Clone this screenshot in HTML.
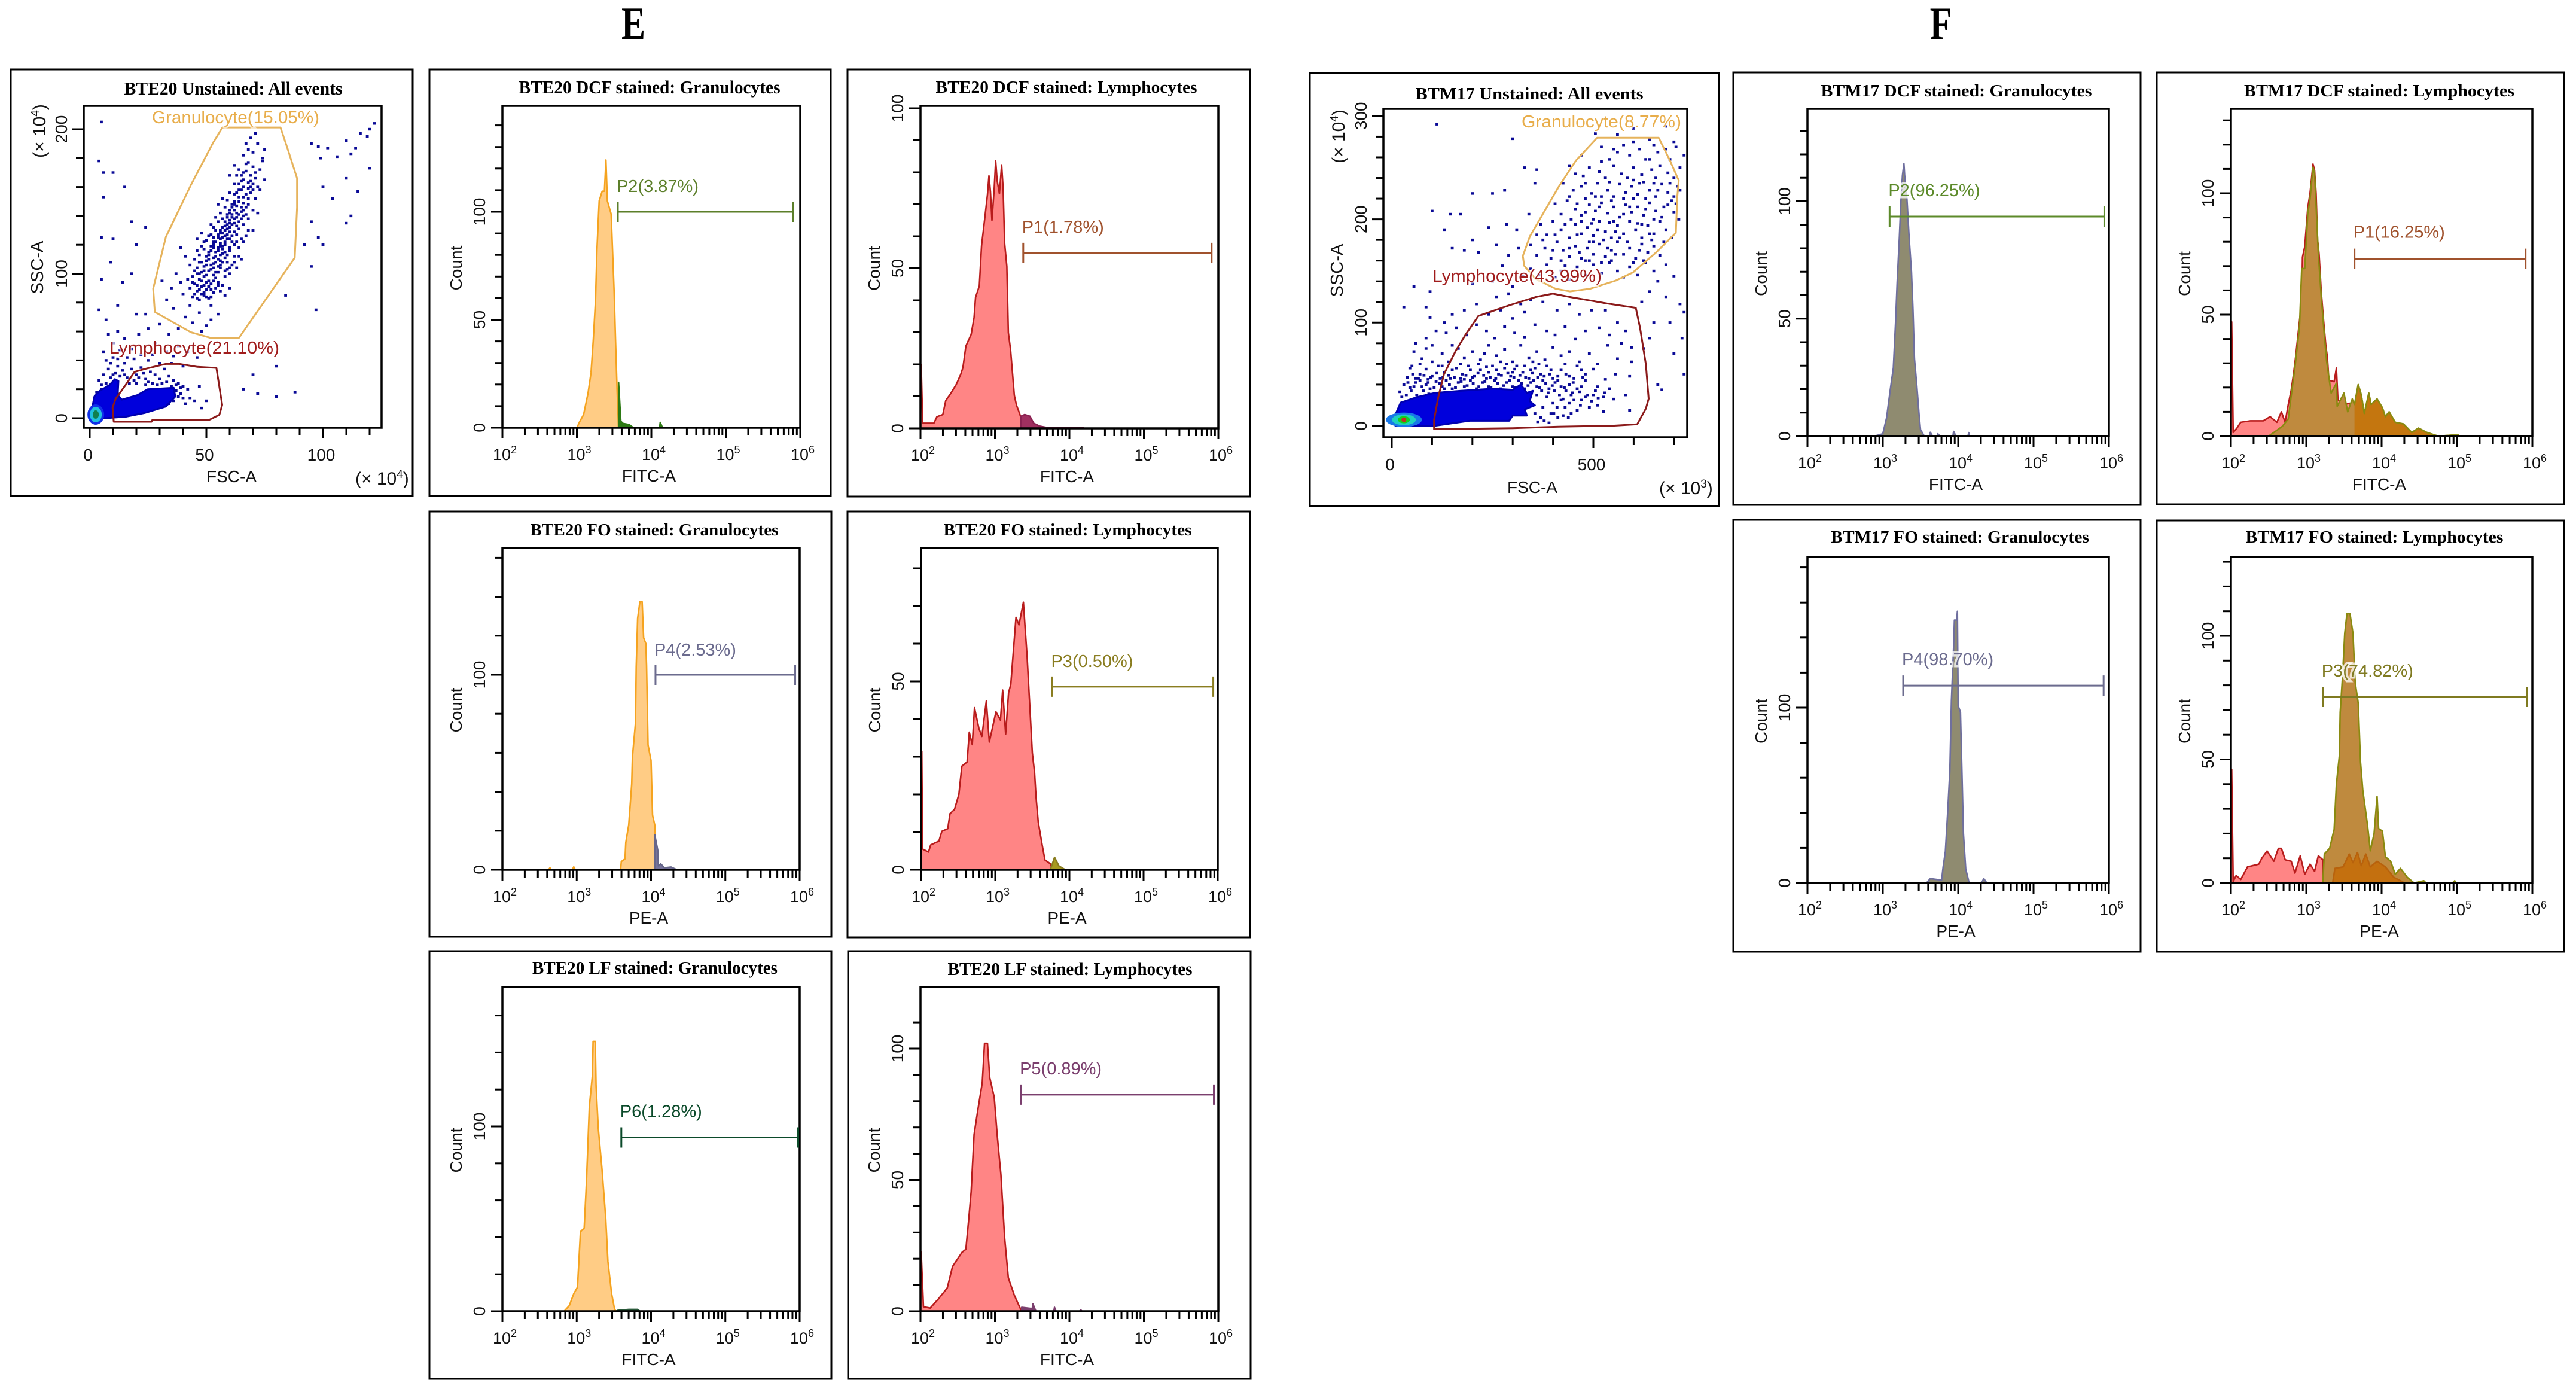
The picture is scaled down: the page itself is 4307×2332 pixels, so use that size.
<!DOCTYPE html>
<html lang="en">
<head>
<meta charset="utf-8">
<title>Flow cytometry panels E and F</title>
<style>
html,body{margin:0;padding:0;background:#fff;}
svg{display:block;}
text{font-family:"Liberation Sans",sans-serif;}
.serif{font-family:"Liberation Serif",serif;font-weight:bold;}
</style>
</head>
<body>
<svg id="figure" xmlns="http://www.w3.org/2000/svg" width="4307" height="2332" viewBox="0 0 4307 2332">
<rect width="4307" height="2332" fill="#fff"/>
<text class="serif" font-size="77" text-anchor="middle" transform="translate(1059,65) scale(.78,1)">E</text>
<text class="serif" font-size="77" text-anchor="middle" transform="translate(3245,65) scale(.78,1)">F</text>
</svg>
<script>
/* ---------- histogram values: log10 fluorescence and event count ---------- */
const eDcfGranLog=[3.00,3.04,3.09,3.15,3.19,3.22,3.25,3.27,3.30,3.34,3.37,3.39,3.41,3.46,3.48,3.50,3.52,3.54,3.56];
const eDcfGranCount=[0,3,6,16,25.5,40.5,58.5,82.5,105,109.5,109.5,124,105,99,81,63,40,18,0];
const eDcfGranGateLog=[3.56,3.56,3.57,3.59,3.62,3.70,3.76,4.11,4.12,4.15];
const eDcfGranGateCount=[0,21,15,3,2,1.5,0,0,2.5,0];

const eDcfLymLog=[2.00,2.01,2.03,2.18,2.22,2.30,2.34,2.41,2.48,2.54,2.57,2.61,2.68,2.72,2.74,2.79,2.82,2.86,2.90,2.92,2.94,2.96,2.99,3.01,3.03,3.06,3.09,3.11,3.13,3.16,3.18,3.21,3.26,3.29,3.33,3.36,3.40];
const eDcfLymCount=[0,19.9,1.6,1.6,3.6,4.3,8.7,11,13.7,16.8,19,25.7,29.3,34.6,40.9,44.5,57,65,73,78.9,73.9,65,74.9,83.6,77.4,73.3,82.3,74.9,57.8,50.6,29.9,24.6,10.3,7.2,4.7,2.5,0];
const eDcfLymGateLog=[3.35,3.35,3.40,3.47,3.52,3.60,3.69,4.19,4.19];
const eDcfLymGateCount=[0,3.8,4.3,3.8,1.6,0.7,0.3,0.3,0];

const eFoGranLog=[2.62,2.64,2.66,2.94,2.96,2.98,3.59,3.60,3.65,3.66,3.70,3.74,3.75,3.79,3.80,3.82,3.85,3.88,3.90,3.93,3.94,3.96,4.00,4.02,4.05,4.06];
const eFoGranCount=[0,1,0,0,1.5,0,0,4.2,5.6,14,23,44,58,75,104,129,137.5,137.5,119,116,105,64,56,28,23,0];
const eFoGranGateLog=[4.05,4.05,4.09,4.10,4.13,4.18,4.27,4.35];
const eFoGranGateCount=[0,18,10,2,3,1,1.4,0];

const eFoLymLog=[2.00,2.01,2.02,2.10,2.13,2.24,2.28,2.36,2.39,2.45,2.51,2.55,2.62,2.65,2.69,2.72,2.78,2.82,2.88,2.92,3.01,3.07,3.10,3.14,3.18,3.21,3.28,3.32,3.38,3.40,3.43,3.45,3.50,3.53,3.55,3.58,3.63,3.67,3.75,3.76];
const eFoLymCount=[0,31.4,5.5,4.7,6.6,7.6,10.2,10.9,14.9,16,20,27.5,28.6,36.5,33.2,43,37.5,35.4,44.8,33.9,41.9,39.7,47.7,36,47,49.2,67,65,71,65,56.5,49.2,31,25.9,19.3,12.7,6.9,2.6,1.5,0];
const eFoLymGateLog=[3.74,3.76,3.80,3.86,3.92,3.95];
const eFoLymGateCount=[0,1,3.3,1,0.3,0];

const eLfGranLog=[2.83,2.90,2.96,3.01,3.05,3.10,3.13,3.17,3.21,3.22,3.25,3.26,3.29,3.34,3.39,3.42,3.47,3.51,3.53];
const eLfGranCount=[0,3,9.5,13,43,45,69,111,127,146,146,122,99,77,50.6,27,9.5,1,0];
const eLfGranGateLog=[3.53,3.55,3.70,3.82,3.85];
const eLfGranGateCount=[0,0.5,1,1,0];

const eLfLymLog=[2.00,2.01,2.04,2.13,2.25,2.36,2.43,2.50,2.56,2.61,2.65,2.68,2.72,2.77,2.83,2.86,2.90,2.93,2.99,3.03,3.08,3.13,3.18,3.26,3.33,3.36];
const eLfLymCount=[0,22.5,1.7,1.2,5,8.9,17,20,22.5,23.6,35.6,45.5,67.3,76.6,87,102,102,89,81.5,67.3,52,28,12.7,6.1,1.7,0];
const eLfLymGateLog=[3.36,3.36,3.50,3.51,3.55,3.79,3.80,3.82,4.14,4.15,4.17];
const eLfLymGateCount=[0,1.5,1,2.8,0,0,1.5,0,0,0.6,0];

const fDcfGranLog=[2.89,3.00,3.05,3.10,3.14,3.17,3.19,3.22,3.24,3.26,3.28,3.29,3.32,3.35,3.38,3.40,3.42,3.45,3.48,3.50,3.55,3.62,3.63,3.66,3.72,3.73,3.76,3.93,3.94,3.97,4.13,4.14,4.15];
const fDcfGranCount=[0,1,7.8,20,29,49,65,85,100,111,116,111,101,84,70,54,33,22,9.6,2.8,0,0,1.6,0,0,1,0,0,2,0,0,1.5,0];

const fDcfLymLog=[2.00,2.01,2.03,2.08,2.13,2.26,2.43,2.52,2.61,2.67,2.72,2.76,2.80,2.83,2.86,2.91,2.94,2.95,2.98,3.02,3.05,3.09,3.11,3.13,3.15,3.17,3.20,3.23,3.26,3.28,3.30,3.37,3.40,3.42,3.50,3.57,3.64,3.64];
const fDcfLymCount=[0,47,1.5,3.3,5.7,6.3,6.3,8,5.7,10,5.7,12.9,18.9,25.4,33,47.5,54.7,73.7,78,94,100,112,109.5,100,81,75,59,47.5,37,32.6,23,22.4,28,15,13,13.5,13.5,0];
const fDcfOliveLog=[2.50,2.57,2.68,2.76,2.81,2.85,2.91,2.94,2.98,3.02,3.05,3.09,3.11,3.13,3.16,3.20,3.24,3.27,3.33,3.40,3.41,3.50,3.55,3.61,3.64,3.69,3.73,3.77,3.83,3.86,3.94,4.01,4.05,4.10,4.18,4.29,4.40,4.49,4.60,4.75,4.93,5.02,5.03];
const fDcfOliveCount=[0,1.5,4,7,19,28.4,45,69,69,91.6,97.6,110.7,108,95,75,57,41.5,31,17.7,21.8,12.3,17.7,10,15.3,13,21.2,17,9.3,17.7,13,15.3,11.7,8,10,5.7,5,1.5,3.3,1.5,0,0.4,0.4,0];

const fFoGranLog=[3.58,3.63,3.78,3.80,3.83,3.86,3.89,3.91,3.94,3.95,3.98,3.99,4.00,4.03,4.05,4.07,4.10,4.14,4.16,4.31,4.34,4.38];
const fFoGranCount=[0,2.5,1.6,9,18,40,64,104,135,150,150,155,101,97.5,63,28,8,1,0,0,2.5,0];

const fFoLymLog=[2.00,2.01,2.03,2.07,2.13,2.22,2.37,2.41,2.48,2.57,2.63,2.67,2.72,2.80,2.85,2.92,2.98,3.05,3.11,3.16,3.22,3.22];
const fFoLymCount=[0,46,0.6,3,1.4,6.5,7.6,10,12.9,8.8,14,14,9.4,8.8,4,11,3.5,7.6,4.7,11,9.4,0];
const fFoOliveLog=[3.22,3.24,3.31,3.37,3.40,3.44,3.45,3.48,3.51,3.54,3.58,3.62,3.65,3.69,3.72,3.75,3.81,3.85,3.90,3.94,3.96,4.01,4.05,4.12,4.18,4.25,4.34,4.43,4.56,4.59,4.94,4.97,4.99];
const fFoOliveCount=[0,11.7,14,21.7,40,51.6,69,83,101,109,109,101,81,72.8,49,37.6,24,13,20,35,22,21,10.6,8.8,3.5,5.9,2.3,0,0.9,0,0,0.9,0];
const fFoGatedLog=[3.35,3.38,3.49,3.57,3.62,3.68,3.73,3.79,3.85,3.94,4.05,4.16,4.27,4.30];
const fFoGatedCount=[0,5.9,6.5,11.7,8.2,12.3,7,11.7,6.5,8.8,6.5,2.3,0.6,0];

/* ---------- scatter values: events as [FSC, SSC] in axis units ---------- */
const eEvents=[[38,62],[41,70],[44,66],[47,73],[50,64],[52,78],[36,76],[33,82],[43,78],[55,72],[48,60],[46,83],[40,86],[35,90],[31,95],[52,68],
[44,84],[46,88],[47,82],[48,91],[49,85],[50,89],[51,83],[52,93],[53,87],[54,90],[45,93],[47,96],[49,98],[51,95],[53,99],[55,94],[56,88],[43,90],[42,96],[46,100],[48,86],[50,94],[52,84],[54,97],[57,92],[58,85],[44,98],[39,94],[37,100],[60,90],
[46,104],[48,108],[49,102],[50,106],[51,110],[52,103],[53,107],[54,112],[55,105],[56,109],[57,114],[58,102],[59,108],[60,116],[47,113],[49,117],[51,115],[53,118],[55,116],[56,104],[58,111],[61,106],[62,112],[50,112],[52,119],[54,101],[57,119],[45,110],[43,106],[64,118],[65,110],[48,119],[59,103],[60,100],[41,112],[39,118],[63,104],
[50,123],[52,127],[53,122],[54,130],[55,125],[56,121],[57,128],[58,133],[59,124],[60,129],[61,122],[62,135],[63,127],[64,131],[55,136],[57,138],[59,134],[61,139],[65,124],[66,134],[52,134],[48,128],[67,126],[68,138],[54,139],[60,137],[63,122],[56,130],[58,126],[46,124],[70,130],
[56,142],[58,146],[59,151],[60,144],[61,148],[62,155],[63,142],[64,150],[65,146],[66,153],[67,141],[68,148],[69,156],[70,144],[60,156],[62,148],[64,158],[66,144],[71,152],[57,152],[55,148],[72,142],[73,158],[59,141],
[62,162],[63,168],[64,172],[65,164],[66,170],[67,176],[68,163],[69,168],[70,174],[71,166],[72,160],[73,172],[74,178],[66,160],[68,177],[70,162],[75,165],[62,175],[60,168],
[66,182],[68,186],[70,184],[72,190],[74,180],[69,194],[67,190],[75,186],[71,197],
[5,205],[4,178],[6,170],[10,170],[15,160],[6,153],[18,136],[5,125],[24,132],[10,124],[20,120],[18,100],[9,108],[5,96],[14,94],[4,75],[7,68],[12,78],[20,72],[24,72],[95,190],[98,188],[102,187],[99,180],[106,181],[110,192],[114,187],[119,195],[120,200],[122,204],[116,197],[112,183],[120,173],[110,166],[115,157],[100,160],[104,152],[112,140],[110,135],[95,136],[98,125],[100,120],[92,120],[95,105],[97,75],[84,85],
[8,58],[10,52],[12,60],[15,55],[18,48],[21,58],[25,62],[28,52],[30,65],[34,58],[38,50],[13,47],[6,46],[10,42],[16,42],[22,44],[27,44],[33,46],[36,43],[42,46],[46,42],[80,36],[70,30],[66,20],[72,17],[88,18],[80,15],
[4,26],[6,30],[8,34],[10,30],[12,36],[14,33],[16,28],[18,34],[20,30],[22,35],[24,27],[26,32],[28,30],[30,27],[32,34],[34,29],[36,26],[38,24],[40,22],[42,20],[39,17],[43,14],[41,10],[45,12],[37,19],[5,23],[20,24],[24,23],[47,22],[48,7],[50,12]];
const eEventsCore=[[45,86],[47,89],[49,87],[51,91],[50,84],[48,95],[46,92],[52,89],[53,95],[50,99],[48,101],[51,102],[53,104],[55,101],[49,105],[52,106],[54,108],[56,106],[50,109],[53,111],[55,110],[57,108],[51,113],[54,115],[56,113],[58,115],[52,116],[55,118],[57,117],[59,113],[53,120],[56,119],[58,120],[60,118],[54,122],[56,124],[58,122],[60,124],[62,120],[55,127],[57,125],[59,127],[61,126],[53,125],[56,128],[58,130],[60,132],[62,129],[57,132],[59,131],[61,134],[63,133],[58,136],[60,135],[62,138],[64,136],[59,139],[61,141],[63,139],[65,138],[60,142],[62,144],[64,141],[66,140],[61,146],[63,147],[65,143],[67,146],[62,150],[64,153],[66,149],[68,152],[63,156],[65,158],[67,155],[69,160],[64,162],[66,165],[68,159],[70,158],[65,168],[67,171],[69,164],[71,170],[49,92],[47,100],[45,102],[44,94],[55,92],[58,98],[60,104],[62,108],[64,112],[66,122],[68,130],[47,108],[46,116],[49,122],[51,126],[53,132],
[3,18],[5,20],[7,24],[9,28],[11,31],[13,29],[15,30],[17,24],[19,26],[21,28],[23,31],[25,25],[27,24],[29,23],[31,24],[33,25],[35,22],[37,23],[39,21],[38,15],[40,14],[36,12],[34,10],[15,38],[9,38],[19,41],[25,40],[30,38],[35,38],[40,36],[12,41],[7,40]];

const fEvents=[[505,283],[560,282],[600,288],[640,277],[680,290],[700,275],[520,270],[575,272],[615,268],[660,265],[705,270],[725,262],[470,262],[540,258],[590,262],[630,258],[690,258],[715,250],
[440,252],[490,250],[515,246],[550,252],[570,244],[600,250],[620,243],[645,248],[665,252],[685,245],[700,240],[475,242],[530,240],[585,240],[655,240],[710,232],[455,244],
[425,235],[450,228],[470,232],[495,225],[510,235],[535,228],[550,222],[565,234],[580,226],[595,232],[610,224],[625,236],[640,228],[655,222],[670,234],[685,226],[700,222],[715,228],[480,220],[520,222],[600,220],[630,220],[660,228],[440,222],
[405,215],[420,205],[435,218],[455,210],[470,204],[490,214],[505,208],[520,216],[535,206],[550,212],[565,202],[580,214],[595,207],[610,212],[625,204],[640,216],[655,208],[670,202],[685,214],[700,207],[712,200],[445,200],[480,207],[545,218],[575,205],[630,210],[695,218],
[370,195],[385,185],[400,198],[420,190],[440,182],[455,195],[470,186],[485,192],[500,184],[515,198],[530,188],[545,182],[560,194],[575,186],[590,198],[605,190],[620,182],[635,194],[650,186],[665,198],[680,190],[695,182],[495,196],[525,180],[565,182],[610,196],[640,186],[470,198],[550,198],
[345,175],[360,165],[380,172],[395,162],[410,178],[425,170],[440,164],[455,174],[470,162],[485,172],[500,166],[515,176],[530,164],[545,170],[560,178],[575,166],[590,172],[605,162],[620,176],[635,168],[650,174],[665,165],[420,160],[500,178],[545,160],[480,160],
[345,152],[365,146],[385,156],[405,144],[420,150],[440,142],[460,154],[480,146],[500,156],[520,148],[540,158],[560,150],[575,144],[590,154],[610,146],[630,158],[650,150],[680,156],[700,145],[430,155],
[112,292],[300,278],[330,250],[360,248],[280,228],[200,225],[355,235],[340,205],[100,208],[145,205],[170,205],[250,225],[240,192],[130,190],[200,180],[285,195],[310,190],[260,175],[180,170],[150,172],[215,168],[315,172],[290,165],[275,155],[325,145],[300,135],[250,140],[200,138],[55,135],[95,130],[30,115],[85,115],[715,118],[680,125],[640,130],[650,100],[690,100],[725,110],[700,70],[725,50],[660,40],[670,35],[720,85],[640,85],[625,75],[660,140],[620,120],
[260,125],[290,128],[320,118],[345,122],[375,120],[410,112],[440,118],[465,108],[495,112],[530,112],[560,100],[180,112],[210,118],[240,108],[270,112],[300,104],[330,110],[150,108],[130,100],[95,105],
[85,85],[110,92],[135,90],[160,95],[185,88],[210,98],[235,92],[255,85],[280,96],[305,90],[330,86],[355,98],[385,92],[405,88],[430,96],[455,84],[480,92],[515,95],[540,88],[570,80],[580,92],[595,76],[60,80],
[55,72],[75,65],[100,78],[125,70],[140,62],[165,75],[180,66],[200,72],[220,64],[240,78],[260,68],[280,74],[300,62],[320,78],[340,66],[360,72],[380,64],[400,76],[420,68],[440,72],[465,62],[490,70],[510,60],[535,78],[560,65],[595,62],[85,75],[150,78],[230,70],[270,62],[350,62],
[50,58],[70,50],[85,55],[100,48],[115,58],[130,52],[145,46],[160,56],[175,50],[190,58],[205,48],[220,54],[235,46],[250,58],[265,50],[280,56],[295,48],[310,58],[325,52],[340,46],[355,56],[370,50],[385,58],[400,46],[420,54],[440,48],[460,58],[480,50],[500,55],[530,45],[555,50],[590,48],[60,46],[90,45],[120,46],[180,45],[240,52],[300,52],[330,58],[365,60],
[40,42],[55,38],[70,44],[85,40],[95,36],[110,43],[125,38],[135,44],[150,36],[165,42],[180,38],[195,44],[210,36],[225,42],[240,38],[255,44],[270,36],[285,42],[300,38],[315,44],[330,36],[345,42],[360,38],[375,44],[390,36],[405,42],[420,38],[440,40],[460,36],[480,44],[510,38],[540,36],[500,30],[525,28],[550,26],[580,30],[590,15],[470,25],[445,30],[420,25],[400,22],[385,28],[375,18],[395,12],[430,18],[460,15],[490,18],[510,20],[445,12],[370,8],[355,12],[345,20],[525,14]];
const fEventsCore=[[30,40],[45,37],[60,42],[75,38],[90,42],[105,37],[118,41],[130,36],[143,40],[158,37],[172,43],[187,39],[202,41],[216,38],[231,43],[246,37],[262,41],[277,39],[292,44],[307,37],[322,41],[338,39],[352,44],[367,37],[382,41],[398,39],[412,44],[428,37],[450,42],[470,38],
[38,47],[52,50],[66,46],[80,49],[96,47],[112,51],[127,47],[141,49],[155,47],[170,46],[184,49],[200,47],[214,51],[228,49],[244,47],[258,46],[272,49],[288,51],[303,47],[318,49],[332,47],[348,51],[362,47],[378,48],[392,50],[412,48],[432,50],[452,46],[474,47],
[36,30],[48,34],[62,30],[78,34],[92,31],[360,30],[372,34],[388,32],[404,34],[416,30],[432,34],[448,32],[466,33],[486,30],[505,34],[528,32],[410,18],[425,26],[440,22],[452,25],[468,20],[480,28],[495,24],[512,27],[402,12],[412,8],[425,10],[438,8],[378,5],[390,3],[362,4],
[45,56],[70,60],[100,62],[125,58],[150,54],[170,60],[195,54],[215,60],[235,57],[260,54],[285,60],[305,55],[345,54],[395,54],[430,60],[470,54],[25,28],[20,33],
[480,235],[505,222],[540,236],[575,220],[615,235],[650,235],[690,235],[460,215],[500,200],[515,212],[540,197],[590,212],[620,195],[650,200],[675,212],[705,215],[430,195],[460,185],[490,178],[510,190],[535,172],[555,188],[585,178],[615,170],[645,180],[675,178],[405,185],[440,172],[465,168],[490,160],[520,158],[555,166],[600,158],[625,160],[400,170],[375,180],[360,185],[550,268],[600,275],[650,272],[680,268],[520,256],[560,265],[600,238],[640,258]];

/* dense event regions and gates, in axis units */
const eDenseRegion=[[0.5,2.5],[2,15],[4.4,19],[8.5,23],[10.8,27],[12.3,25.7],[12,16],[13.8,12.8],[20.5,16],[24.9,20],[36,21],[36.7,15],[32.6,8],[23.8,3.7],[15.4,1],[3.3,-0.4]];
const eGranGate=[[56.9,201.2],[81.8,201.2],[84.9,186.2],[88.9,166],[88.9,145.8],[87.9,111],[64,55.6],[51.7,55.6],[43.4,59.4],[27.9,73.5],[27.2,89.7],[32.7,125.6],[43.4,161.5],[52.9,190.7]];
const eLymGate=[[9.8,7.2],[10.3,-2.5],[26.5,-2.5],[26.9,-1.1],[51.3,-1.1],[55.6,2.3],[56.8,9.2],[54.3,34.8],[46.2,35.5],[38.5,37.5],[32.5,37.5],[23.9,34.1],[19.2,32],[15.4,23],[11.1,13.4]];
const eHotspot=[2.6,2.5];
const fDenseRegion=[[9,0],[9,11],[22,22.6],[64,28],[108,32],[172,34],[252,36],[300,35],[320,40],[335,32],[350,34],[342,24],[355,20],[330,16],[335,10],[300,10],[291,5],[193,5],[104,0]];
const fGranGate=[[509.5,278.9],[662.1,278.9],[690.5,256.6],[711.8,237.6],[708.3,221.7],[704.7,186.8],[655,167.7],[598.3,148.6],[555.7,140.7],[491.8,132.8],[442.1,130.2],[406.6,132.8],[356.9,142.3],[328.5,155],[325,164.5],[342.7,183.6],[385.3,212.2],[413.7,231.2],[456.3,256.6]];
const fLymGate=[[104.9,-3.2],[300.1,-2.2],[413.7,-0.7],[552,0.3],[608.9,1.6],[630.2,16.8],[637.3,26.3],[630.2,59.7],[616,94.6],[605.3,114.3],[534.4,118.5],[442.1,124.8],[399.5,128],[356.9,124.8],[293,116.9],[214.9,106.4],[183,88.3],[158.1,72.4],[129.7,50.2],[115.5,27.9],[104.9,5.7]];
const fHotspot=[30,6];

/* tick labels */
const decadeExponents=[2,3,4,5,6];
const eXTickLabels=[0,50,100];
const eYTickLabels=[0,100,200];
const fXTickLabels=[0,500];
const fYTickLabels=[0,100,200,300];

/* ---------- layout ---------- */
const GRAN_E={fill:'#ffcc85',stroke:'#f5a31f'};
const LYM_E={fill:'#ff8585',stroke:'#b81c1c'};
const GRAN_F={fill:'#8f8b70',stroke:'#6f6f9e'};
const OLIVE_F={fill:'#bf8a3e',stroke:'#8a8a10'};

const histPanels=[
{id:'bte20-dcf-granulocytes',frame:[718,116,1389,829],plot:[840,177,1338,715],pxPerCount:3.61,tickStep:10,tickMax:140,labels:[0,50,100],title:'BTE20 DCF stained: Granulocytes',titleX:1086,titleY:156,titleLen:437,titleSize:31,xTitle:'FITC-A',
 layers:[{log:eDcfGranLog,count:eDcfGranCount,...GRAN_E},{log:eDcfGranGateLog,count:eDcfGranGateCount,fill:'#2d7a14',stroke:'#2d7a14'}],
 gate:{label:'P2(3.87%)',from:3.55,to:5.90,level:100,color:'#5c7f2a',rise:33}},
{id:'bte20-dcf-lymphocytes',frame:[1417,116,2090,830],plot:[1539,177,2037,716],pxPerCount:5.35,tickStep:10,tickMax:100,labels:[0,50,100],title:'BTE20 DCF stained: Lymphocytes',titleX:1783,titleY:155,titleLen:437,titleSize:29,xTitle:'FITC-A',
 layers:[{log:eDcfLymLog,count:eDcfLymCount,...LYM_E},{log:eDcfLymGateLog,count:eDcfLymGateCount,fill:'#a03060',stroke:'#8b2252'}],
 gate:{label:'P1(1.78%)',from:3.38,to:5.91,level:54.8,color:'#a0522d',rise:34}},
{id:'bte20-fo-granulocytes',frame:[718,855,1390,1566],plot:[840,916,1337,1454],pxPerCount:3.26,tickStep:20,tickMax:160,labels:[0,100],title:'BTE20 FO stained: Granulocytes',titleX:1094,titleY:895,titleLen:415,titleSize:29,xTitle:'PE-A',
 layers:[{log:eFoGranLog,count:eFoGranCount,...GRAN_E},{log:eFoGranGateLog,count:eFoGranGateCount,fill:'#77739a',stroke:'#66668a'}],
 gate:{label:'P4(2.53%)',from:4.06,to:5.94,level:100,color:'#6b6b8e',rise:32}},
{id:'bte20-fo-lymphocytes',frame:[1417,855,2090,1567],plot:[1540,916,2036,1454],pxPerCount:6.3,tickStep:10,tickMax:80,labels:[0,50],title:'BTE20 FO stained: Lymphocytes',titleX:1785,titleY:895,titleLen:415,titleSize:29,xTitle:'PE-A',
 layers:[{log:eFoLymLog,count:eFoLymCount,...LYM_E},{log:eFoLymGateLog,count:eFoLymGateCount,fill:'#a89a20',stroke:'#8a7d20'}],
 gate:{label:'P3(0.50%)',from:3.77,to:5.94,level:48.6,color:'#8a7d20',rise:33}},
{id:'bte20-lf-granulocytes',frame:[718,1590,1390,2305],plot:[840,1650,1337,2192],pxPerCount:3.09,tickStep:20,tickMax:160,labels:[0,100],title:'BTE20 LF stained: Granulocytes',titleX:1095,titleY:1628,titleLen:410,titleSize:31,xTitle:'FITC-A',
 layers:[{log:eLfGranLog,count:eLfGranCount,...GRAN_E},{log:eLfGranGateLog,count:eLfGranGateCount,fill:'#2a5a3a',stroke:'#2a5a3a'}],
 gate:{label:'P6(1.28%)',from:3.60,to:5.98,level:94,color:'#0b4a2a',rise:34}},
{id:'bte20-lf-lymphocytes',frame:[1418,1590,2091,2305],plot:[1539,1650,2037,2192],pxPerCount:4.39,tickStep:10,tickMax:110,labels:[0,50,100],title:'BTE20 LF stained: Lymphocytes',titleX:1789,titleY:1630,titleLen:409,titleSize:31,xTitle:'FITC-A',
 layers:[{log:eLfLymLog,count:eLfLymCount,...LYM_E},{log:eLfLymGateLog,count:eLfLymGateCount,fill:'#7b3f6e',stroke:'#7b3f6e'}],
 gate:{label:'P5(0.89%)',from:3.35,to:5.94,level:82.5,color:'#7b3f6e',rise:34}},
{id:'btm17-dcf-granulocytes',frame:[2898,121,3579,844],plot:[3022,182,3526,729],pxPerCount:3.925,tickStep:10,tickMax:130,labels:[0,50,100],title:'BTM17 DCF stained: Granulocytes',titleX:3271,titleY:161,titleLen:453,titleSize:29,xTitle:'FITC-A',
 layers:[{log:fDcfGranLog,count:fDcfGranCount,...GRAN_F}],
 gate:{label:'P2(96.25%)',from:3.09,to:5.94,level:93.5,color:'#5c8a2a',rise:34,halo:true}},
{id:'btm17-dcf-lymphocytes',frame:[3606,121,4287,843],plot:[3730,182,4234,729],pxPerCount:4.06,tickStep:10,tickMax:130,labels:[0,50,100],title:'BTM17 DCF stained: Lymphocytes',titleX:3978,titleY:161,titleLen:452,titleSize:29,xTitle:'FITC-A',
 layers:[{log:fDcfLymLog,count:fDcfLymCount,...LYM_E},{log:fDcfOliveLog,count:fDcfOliveCount,...OLIVE_F},{log:fDcfOliveLog,count:fDcfOliveCount,fill:'#c4760f',stroke:'#8a8a10',clipFrom:3.64}],
 gate:{label:'P1(16.25%)',from:3.64,to:5.91,level:73,color:'#a0522d',rise:35}},
{id:'btm17-fo-granulocytes',frame:[2898,869,3579,1591],plot:[3022,931,3526,1476],pxPerCount:2.93,tickStep:20,tickMax:180,labels:[0,100],title:'BTM17 FO stained: Granulocytes',titleX:3277,titleY:907,titleLen:432,titleSize:29,xTitle:'PE-A',
 layers:[{log:fFoGranLog,count:fFoGranCount,...GRAN_F}],
 gate:{label:'P4(98.70%)',from:3.27,to:5.93,level:112.6,color:'#6b6b8e',rise:34,halo:true}},
{id:'btm17-fo-lymphocytes',frame:[3606,870,4287,1591],plot:[3730,931,4234,1476],pxPerCount:4.13,tickStep:10,tickMax:130,labels:[0,50,100],title:'BTM17 FO stained: Lymphocytes',titleX:3970,titleY:907,titleLen:431,titleSize:29,xTitle:'PE-A',
 layers:[{log:fFoLymLog,count:fFoLymCount,...LYM_E},{log:fFoOliveLog,count:fFoOliveCount,...OLIVE_F},{log:fFoGatedLog,count:fFoGatedCount,fill:'#c4700f',stroke:'#b8620c'}],
 gate:{label:'P3(74.82%)',from:3.22,to:5.93,level:75.3,color:'#7f7a20',rise:34,halo:true}}
];

const scatterPanels=[
{id:'bte20-unstained',frame:[18,116,690,829],plot:[140,177,638,715],xZero:150,xPerUnit:3.9,yZero:699,yPerUnit:2.415,xStep:10,xMax:120,yStep:20,yMax:200,xLabels:eXTickLabels,yLabels:eYTickLabels,xMajor:50,yMajor:100,title:'BTE20 Unstained: All events',titleX:390,titleY:158,titleLen:365,titleSize:31,
 events:eEvents.concat(eEventsCore),dense:eDenseRegion,hot:eHotspot,gates:[{points:eGranGate,color:'#e6b35c',name:'granulocyte'},{points:eLymGate,color:'#8b1a1a',name:'lymphocyte'}],
 gateLabels:[{text:'Granulocyte(15.05%)',x:254,y:206,len:280,color:'#e8ad4a'},{text:'Lymphocyte(21.10%)',x:183,y:591,len:284,color:'#a01c1c'}],
 xTitleX:387,xTitleY:806,xExpX:594,xExpY:810,expX:'4',yTitleX:72,yTitleY:447,yExpX:76,yExpY:219,hotSizes:[[14,17,'#1030e8'],[10,13,'#20c0e0'],[5,7,'#108050']]},
{id:'btm17-unstained',frame:[2190,122,2874,846],plot:[2313,182,2821,731],xZero:2327,xPerUnit:0.674,yZero:712,yPerUnit:1.727,xStep:100,xMax:700,yStep:20,yMax:300,xLabels:fXTickLabels,yLabels:fYTickLabels,xMajor:500,yMajor:100,title:'BTM17 Unstained: All events',titleX:2557,titleY:166,titleLen:381,titleSize:29,
 events:fEvents.concat(fEventsCore),dense:fDenseRegion,hot:fHotspot,gates:[{points:fGranGate,color:'#e6b35c',name:'granulocyte'},{points:fLymGate,color:'#8b1a1a',name:'lymphocyte'}],
 gateLabels:[{text:'Granulocyte(8.77%)',x:2544,y:213,len:267,color:'#e8ad4a'},{text:'Lymphocyte(43.99%)',x:2395,y:471,len:283,color:'#a01c1c'}],
 xTitleX:2562,xTitleY:824,xExpX:2774,xExpY:826,expX:'3',yTitleX:2245,yTitleY:452,yExpX:2248,yExpY:228,hotSizes:[[30,12,'#1878e8'],[20,9,'#20d0c0'],[10,6,'#10d020'],[4,4,'#c03020']]}
];

/* ---------- drawing ---------- */
const NS='http://www.w3.org/2000/svg';
const root=document.getElementById('figure');
function make(parent,tag,attrs){
  const n=document.createElementNS(NS,tag);
  for(const k in attrs){n.setAttribute(k,attrs[k]);}
  parent.appendChild(n);
  return n;
}
function pathOf(pts,close){
  return pts.map((p,i)=>(i?'L':'M')+p[0].toFixed(1)+' '+p[1].toFixed(1)).join('')+(close?'Z':'');
}
function drawFrame(group,id,f,p){
  const frame=make(group,'rect',{x:f[0],y:f[1],width:f[2]-f[0],height:f[3]-f[1],fill:'#fff',stroke:'#000','stroke-width':3});
  
  
}
function drawPlotBorder(group,id,p){
  const box=make(group,'rect',{x:p[0],y:p[1],width:p[2]-p[0],height:p[3]-p[1],fill:'none',stroke:'#000','stroke-width':3.5});
  
  
}
function drawTitle(group,id,text,x,y,len,size){
  const t=make(group,'text',{x:x,y:y,'text-anchor':'middle','font-size':size,textLength:len,lengthAdjust:'spacingAndGlyphs',class:'serif',fill:'#000'});
  t.textContent=text;
  
  
}
function vertText(group,name,text,x,y,size){
  const t=make(group,'text',{transform:'translate('+x+','+y+') rotate(-90)','text-anchor':'middle','font-size':size,fill:'#111'});
  t.textContent=text;
  
  
  return t;
}
function horText(group,name,text,x,y,size,anchor){
  const t=make(group,'text',{x:x,y:y,'text-anchor':anchor||'middle','font-size':size,fill:'#111'});
  t.textContent=text;
  
  
  return t;
}
function tick(group,name,x1,y1,x2,y2){
  const l=make(group,'line',{x1:x1,y1:y1,x2:x2,y2:y2,stroke:'#000','stroke-width':3});
  
  
}

function drawHistogram(cfg,index){
  const group=make(root,'g',{});
  
  
  const p=cfg.plot, y0=p[3];
  const xOf=v=>p[0]+(v-2)/4*(p[2]-p[0]);
  const yOf=c=>y0-c*cfg.pxPerCount;
  drawFrame(group,cfg.id,cfg.frame,p);
  drawTitle(group,cfg.id,cfg.title,cfg.titleX,cfg.titleY,cfg.titleLen,cfg.titleSize);

  cfg.layers.forEach((layer,li)=>{
    const pts=layer.log.map((v,i)=>[xOf(v),yOf(layer.count[i])]);
    const closed=[[pts[0][0],y0]].concat(pts,[[pts[pts.length-1][0],y0]]);
    let clip=null;
    if(layer.clipFrom!==undefined){
      const cid='clip'+index+'_'+li;
      const cp=make(group,'clipPath',{id:cid});
      make(cp,'rect',{x:xOf(layer.clipFrom),y:p[1],width:p[2]-xOf(layer.clipFrom),height:p[3]-p[1]});
      clip='url(#'+cid+')';
    }
    const area=make(group,'path',{d:pathOf(closed,true),fill:layer.fill,stroke:'none'});
    if(clip){area.setAttribute('clip-path',clip);}
    
    
    const line=make(group,'path',{d:pathOf(pts,false),fill:'none',stroke:layer.stroke,'stroke-width':2.6,'stroke-linejoin':'round'});
    if(clip){line.setAttribute('clip-path',clip);}
    
    
  });

  drawPlotBorder(group,cfg.id,p);

  for(let v=0;v<=cfg.tickMax;v+=cfg.tickStep){
    const major=cfg.labels.indexOf(v)>=0;
    tick(group,cfg.id+'-y-tick-'+v,p[0],yOf(v),p[0]-(major?19:13),yOf(v));
  }
  cfg.labels.forEach(v=>{
    vertText(group,cfg.id+'-y-tick-label-'+v,String(v),p[0]-29,yOf(v),28);
  });
  decadeExponents.forEach(e=>{
    const x=xOf(e);
    tick(group,cfg.id+'-x-tick-major-'+e,x,y0,x,y0+18);
    if(e<6){
      for(let m=2;m<=9;m++){
        const xm=xOf(e+Math.log10(m));
        tick(group,cfg.id+'-x-tick-minor-'+e+'-'+m,xm,y0,xm,y0+13);
      }
    }
    const lab=make(group,'text',{x:x+4,y:y0+54,'text-anchor':'middle','font-size':27,fill:'#111'});
    lab.textContent='10';
    const sup=make(lab,'tspan',{dy:-11,'font-size':18});
    sup.textContent=String(e);
    
    
  });
  horText(group,cfg.id+'-x-axis-title',cfg.xTitle,(p[0]+p[2])/2-4,y0+90,28);
  vertText(group,cfg.id+'-y-axis-title','Count',p[0]-68,(p[1]+p[3])/2+2,28);

  const g=cfg.gate, gy=yOf(g.level), gx1=xOf(g.from), gx2=xOf(g.to);
  const bar=make(group,'path',{d:'M'+gx1+' '+(gy-17)+'V'+(gy+17)+'M'+gx1+' '+gy+'H'+gx2+'M'+gx2+' '+(gy-17)+'V'+(gy+17),fill:'none',stroke:g.color,'stroke-width':3});
  
  
  const gl=make(group,'text',{x:gx1-2,y:gy-g.rise,'font-size':29,fill:g.color});
  if(g.halo){
    gl.setAttribute('stroke','rgba(255,255,255,.75)');
    gl.setAttribute('stroke-width','7');
    gl.setAttribute('paint-order','stroke');
  }
  gl.textContent=g.label;
  
  
}

function drawScatter(cfg){
  const group=make(root,'g',{});
  
  
  const p=cfg.plot;
  const xOf=v=>cfg.xZero+v*cfg.xPerUnit;
  const yOf=v=>cfg.yZero-v*cfg.yPerUnit;
  drawFrame(group,cfg.id,cfg.frame,p);
  drawTitle(group,cfg.id,cfg.title,cfg.titleX,cfg.titleY,cfg.titleLen,cfg.titleSize);

  cfg.events.forEach((e,i)=>{
    const r=make(group,'rect',{x:(xOf(e[0])-2.4).toFixed(1),y:(yOf(e[1])-2.2).toFixed(1),width:4.8,height:4.4,fill:'#0a0a96'});
    
    
  });
  const dense=make(group,'path',{d:pathOf(cfg.dense.map(q=>[xOf(q[0]),yOf(q[1])]),true),fill:'#0000dc',stroke:'#0000b0','stroke-width':3,'stroke-linejoin':'round'});
  
  
  cfg.hotSizes.forEach((s,i)=>{
    const h=make(group,'ellipse',{cx:xOf(cfg.hot[0]),cy:yOf(cfg.hot[1]),rx:s[0],ry:s[1],fill:s[2]});
    
    
  });
  cfg.gates.forEach(g=>{
    const poly=make(group,'path',{d:pathOf(g.points.map(q=>[xOf(q[0]),yOf(q[1])]),true),fill:'none',stroke:g.color,'stroke-width':3,'stroke-linejoin':'round'});
    
    
  });
  cfg.gateLabels.forEach((g,i)=>{
    const t=make(group,'text',{x:g.x,y:g.y,'font-size':29,textLength:g.len,lengthAdjust:'spacingAndGlyphs',fill:g.color,stroke:'rgba(255,255,255,.65)','stroke-width':5,'paint-order':'stroke'});
    t.textContent=g.text;
    
    
  });
  drawPlotBorder(group,cfg.id,p);

  for(let v=0;v<=cfg.yMax;v+=cfg.yStep){
    const major=v%cfg.yMajor===0;
    tick(group,cfg.id+'-y-tick-'+v,p[0],yOf(v),p[0]-(major?19:13),yOf(v));
  }
  for(let v=0;v<=cfg.xMax;v+=cfg.xStep){
    const major=v%cfg.xMajor===0;
    tick(group,cfg.id+'-x-tick-'+v,xOf(v),p[3],xOf(v),p[3]+(major?18:13));
  }
  cfg.yLabels.forEach(v=>{
    vertText(group,cfg.id+'-y-tick-label-'+v,String(v),p[0]-28,yOf(v),28);
  });
  cfg.xLabels.forEach(v=>{
    horText(group,cfg.id+'-x-tick-label-'+v,String(v),xOf(v)-3,p[3]+55,28);
  });
  horText(group,cfg.id+'-x-axis-title','FSC-A',cfg.xTitleX,cfg.xTitleY,28);
  vertText(group,cfg.id+'-y-axis-title','SSC-A',cfg.yTitleX,cfg.yTitleY,29);

  const xe=horText(group,cfg.id+'-x-axis-scale','(× 10',cfg.xExpX,cfg.xExpY,30,'start');
  const xs=make(xe,'tspan',{dy:-11,'font-size':19});
  xs.textContent=cfg.expX;
  const xc=make(xe,'tspan',{dy:11});
  xc.textContent=')';

  const ye=vertText(group,cfg.id+'-y-axis-scale','(× 10',cfg.yExpX,cfg.yExpY,30);
  const ys=make(ye,'tspan',{dy:-11,'font-size':19});
  ys.textContent='4';
  const yc=make(ye,'tspan',{dy:11});
  yc.textContent=')';
}

scatterPanels.forEach(drawScatter);
histPanels.forEach(drawHistogram);
</script>
</body>
</html>
